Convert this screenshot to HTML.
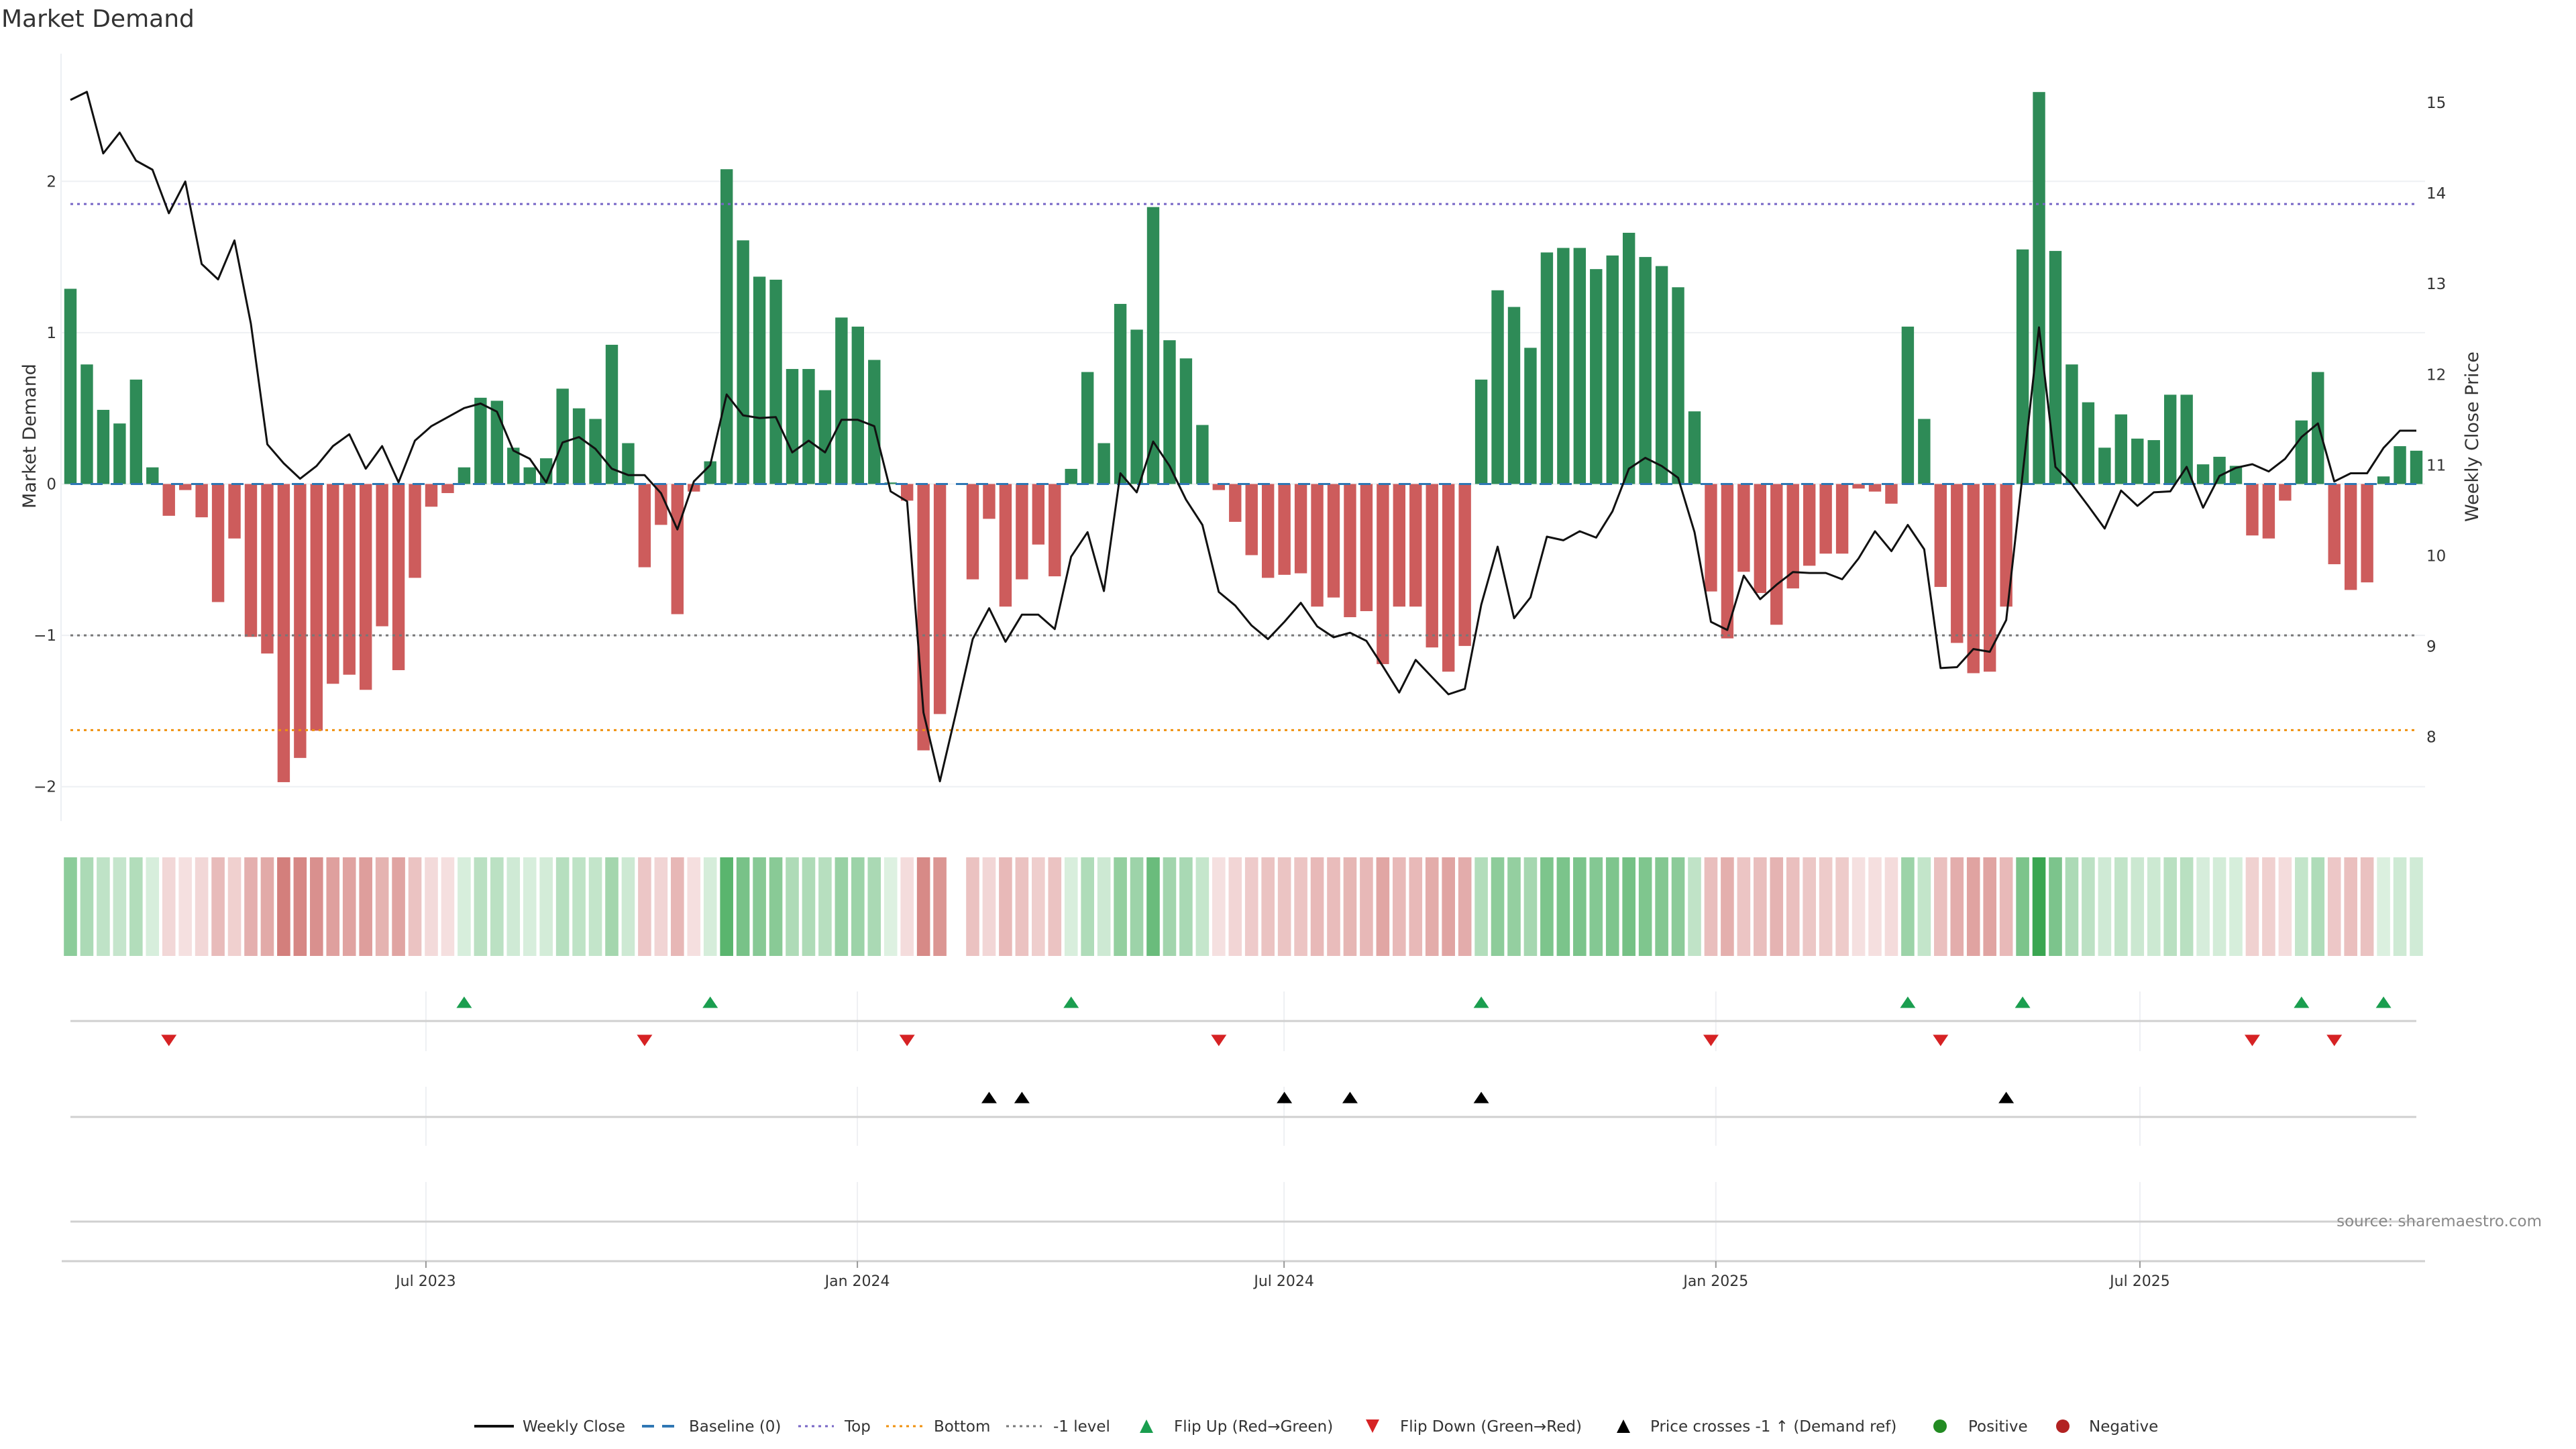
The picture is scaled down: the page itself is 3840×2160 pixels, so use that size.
<!DOCTYPE html>
<html><head><meta charset="utf-8"><title>Market Demand</title>
<style>html,body{margin:0;padding:0;background:#fff}svg{display:block}text{font-family:"DejaVu Sans","Liberation Sans",sans-serif}</style>
</head><body>
<svg id="chart" xmlns="http://www.w3.org/2000/svg" width="3840" height="2160" viewBox="0 0 3840 2160">
<rect width="3840" height="2160" fill="#fff"/>
<text x="2" y="40" font-size="36" fill="#333">Market Demand</text>
<line x1="91" y1="80" x2="91" y2="1224" stroke="#eceff3" stroke-width="2"/>
<text transform="translate(53,650) rotate(-90)" text-anchor="middle" font-size="27" fill="#333">Market Demand</text>
<text transform="translate(3694,651) rotate(-90)" text-anchor="middle" font-size="27" fill="#333">Weekly Close Price</text>
<g id="grid"></g><g id="bars"></g><g id="refs"></g><g id="line"></g><g id="heat"></g><g id="panels"></g><g id="axis"></g><g id="legend"></g>
<text x="3789" y="1828" text-anchor="end" font-size="23" fill="#888">source: sharemaestro.com</text>
</svg>
<script>
const demand = [1.29,0.79,0.49,0.40,0.69,0.11,-0.21,-0.04,-0.22,-0.78,
-0.36,-1.01,-1.12,-1.97,-1.81,-1.63,-1.32,-1.26,-1.36,-0.94,
-1.23,-0.62,-0.15,-0.06,0.11,0.57,0.55,0.24,0.11,0.17,
0.63,0.50,0.43,0.92,0.27,-0.55,-0.27,-0.86,-0.05,0.15,
2.08,1.61,1.37,1.35,0.76,0.76,0.62,1.10,1.04,0.82,
0.01,-0.11,-1.76,-1.52,null,-0.63,-0.23,-0.81,-0.63,-0.40,
-0.61,0.10,0.74,0.27,1.19,1.02,1.83,0.95,0.83,0.39,
-0.04,-0.25,-0.47,-0.62,-0.60,-0.59,-0.81,-0.75,-0.88,-0.84,
-1.19,-0.81,-0.81,-1.08,-1.24,-1.07,0.69,1.28,1.17,0.90,
1.53,1.56,1.56,1.42,1.51,1.66,1.50,1.44,1.30,0.48,
-0.71,-1.02,-0.58,-0.72,-0.93,-0.69,-0.54,-0.46,-0.46,-0.03,
-0.05,-0.13,1.04,0.43,-0.68,-1.05,-1.25,-1.24,-0.81,1.55,
2.59,1.54,0.79,0.54,0.24,0.46,0.30,0.29,0.59,0.59,
0.13,0.18,0.12,-0.34,-0.36,-0.11,0.42,0.74,-0.53,-0.70,
-0.65,0.05,0.25,0.22];
const price = [15.03,15.12,14.44,14.67,14.36,14.26,13.78,14.13,13.22,13.05,
13.48,12.56,11.23,11.02,10.85,10.99,11.21,11.34,10.96,11.21,
10.81,11.27,11.43,11.53,11.63,11.68,11.59,11.16,11.07,10.81,
11.25,11.31,11.18,10.96,10.89,10.89,10.69,10.29,10.82,11.00,
11.78,11.55,11.52,11.53,11.14,11.27,11.14,11.50,11.50,11.43,
10.71,10.60,8.27,7.51,8.28,9.08,9.42,9.05,9.35,9.35,
9.19,9.99,10.26,9.61,10.91,10.70,11.26,10.99,10.62,10.34,
9.60,9.45,9.23,9.08,9.27,9.48,9.22,9.10,9.15,9.06,
8.78,8.49,8.85,8.66,8.47,8.53,9.46,10.10,9.31,9.54,
10.21,10.17,10.27,10.20,10.49,10.96,11.08,10.99,10.86,10.26,
9.27,9.18,9.78,9.52,9.68,9.82,9.81,9.81,9.74,9.97,
10.27,10.05,10.34,10.07,8.76,8.77,8.97,8.94,9.29,10.90,
12.52,10.98,10.79,10.55,10.30,10.72,10.55,10.70,10.71,10.98,
10.53,10.88,10.97,11.01,10.93,11.07,11.31,11.46,10.82,10.91,
10.91,11.19,11.38,11.38];
const leftTicks = [-2,-1,0,1,2];
const rightTicks = [8,9,10,11,12,13,14,15];
const xTickLabels = ["Jul 2023","Jan 2024","Jul 2024","Jan 2025","Jul 2025"];
const xTickIdx = [21.67,47.97,73.98,100.30,126.15];
const topLevel = 1.85;
const bottomLevel = -1.626;
const minusLevel = -1;

const NS="http://www.w3.org/2000/svg";
const N = demand.length;
const x0=105, x1=3602;
const step=(x1-x0)/(N-1);
function xs(i){return x0+i*step;}
function yL(v){return 721.5-225.6*v;}
function yR(p){return 153.1+(15-p)*135.06;}
function pInv(y){return 15-(y-153.1)/135.06;}
function mk(tag,attrs,parent){const e=document.createElementNS(NS,tag);for(const k in attrs)e.setAttribute(k,attrs[k]);parent.appendChild(e);return e;}
const G=id=>document.getElementById(id);

const grid=G('grid');
leftTicks.forEach(v=>{
  const l=mk('line',{x1:91,x2:3615,y1:yL(v),y2:yL(v),stroke:'#eef0f3','stroke-width':2},grid);
  
  
  const t=mk('text',{x:84,y:yL(v)+8,'text-anchor':'end','font-size':23,fill:'#333'},grid);
  t.textContent=v<0?'\u2212'+Math.abs(v):String(v);
  
  
});
rightTicks.forEach(p=>{
  const t=mk('text',{x:3617,y:yR(p)+8,'font-size':23,fill:'#333'},grid);
  t.textContent=String(p);
  
  
});

const bars=G('bars');
demand.forEach((v,i)=>{
  if(v===null)return;
  const y=Math.min(yL(v),yL(0)), h=Math.abs(yL(v)-yL(0));
  const r=mk('rect',{x:xs(i)-9.2,y:y,width:18.4,height:Math.max(h,0.5),fill:v>=0?'#2e8b57':'#cd5c5c'},bars);
  
  
});

const refs=G('refs');
function ref(v,color,dash,name){
  const l=mk('line',{x1:x0,x2:x1,y1:yL(v),y2:yL(v),stroke:color,'stroke-width':3,'stroke-dasharray':dash},refs);
  
  
}
ref(0,'#2f77b4','18 12','baseline-zero');
ref(topLevel,'#7766c6','4 6','top-level-line');
ref(bottomLevel,'#f0900e','4 6','bottom-level-line');
ref(minusLevel,'#777','4 6','minus-one-level-line');

const pts=price.map((p,i)=>xs(i).toFixed(1)+','+yR(p).toFixed(1)).join(' ');
const pl=mk('polyline',{points:pts,fill:'none',stroke:'#111','stroke-width':3,'stroke-linejoin':'round'},G('line'));



const heat=G('heat');
const maxAbs=Math.max(...demand.filter(v=>v!==null).map(Math.abs));
function mix(a,b,t){return 'rgb('+a.map((c,k)=>Math.round(c+(b[k]-c)*t)).join(',')+')';}
demand.forEach((v,i)=>{
  if(v===null)return;
  const t=Math.min(1,Math.abs(v)/maxAbs);
  const col=v>=0?mix([222,241,226],[58,166,81],t):mix([246,226,226],[200,96,92],t);
  const r=mk('rect',{x:xs(i)-9.8,y:1278,width:19.6,height:147,fill:col},heat);
  
  
});

const panels=G('panels');
function hline(y,name){const l=mk('line',{x1:x0,x2:x1,y1:y,y2:y,stroke:'#d0d0d0','stroke-width':3},panels);}
xTickIdx.forEach(ix=>{
  [[1478,1567],[1620,1708],[1762,1880]].forEach(r=>{
    const l=mk('line',{x1:xs(ix),x2:xs(ix),y1:r[0],y2:r[1],stroke:'#eef0f3','stroke-width':2},panels);
    
    
  });
});
hline(1522,'flip-panel-axis');
hline(1665,'cross-panel-axis');
hline(1821,'empty-panel-axis');
function tri(cx,cy,up,color,name){
  const w=11.5,h=8.5;
  const d=up?`M${cx-w},${cy+h} L${cx+w},${cy+h} L${cx},${cy-h} Z`:`M${cx-w},${cy-h} L${cx+w},${cy-h} L${cx},${cy+h} Z`;
  const p=mk('path',{d:d,fill:color},panels);
  
  
}
let prev=null;
demand.forEach((v,i)=>{
  if(v===null)return;
  if(prev!==null){
    if(prev<0&&v>=0)tri(xs(i),1494,true,'#1a9e4f','flip-up-marker');
    if(prev>=0&&v<0)tri(xs(i),1551,false,'#d62224','flip-down-marker');
  }
  prev=v;
});
const thr=pInv(yL(minusLevel));
for(let i=1;i<N;i++){
  if(price[i-1]<thr&&price[i]>=thr)tri(xs(i),1636,true,'#000','price-cross-marker');
}

const axis=G('axis');
const ax=mk('line',{x1:92,x2:3615,y1:1880,y2:1880,stroke:'#cfcfcf','stroke-width':3},axis);


xTickIdx.forEach((ix,k)=>{
  const l=mk('line',{x1:xs(ix),x2:xs(ix),y1:1880,y2:1890,stroke:'#999','stroke-width':2},axis);
  
  
  const t=mk('text',{x:xs(ix),y:1917,'text-anchor':'middle','font-size':22,fill:'#333'},axis);
  t.textContent=xTickLabels[k];
  
  
});

const lg=G('legend');
const ly=2126;
function ltext(x,s){const t=mk('text',{x:x,y:ly+8,'font-size':23,fill:'#333'},lg);t.textContent=s;}
function lline(xa,xb,color,dash,w,name){const l=mk('line',{x1:xa,x2:xb,y1:ly,y2:ly,stroke:color,'stroke-width':w,'stroke-dasharray':dash},lg);}
lline(707,766,'#111','none',4,'legend-weekly-close');ltext(779,'Weekly Close');
lline(957,1011,'#2f77b4','18 12',4,'legend-baseline');ltext(1027,'Baseline (0)');
lline(1190,1243,'#7766c6','4 6',3,'legend-top');ltext(1259,'Top');
lline(1321,1375,'#f0900e','4 6',3,'legend-bottom');ltext(1392,'Bottom');
lline(1500,1553,'#777','4 6',3,'legend-minus-one');ltext(1570,'-1 level');
function ltri(cx,up,color,name){const w=10,h=10;const d=up?`M${cx-w},${ly+h} L${cx+w},${ly+h} L${cx},${ly-h} Z`:`M${cx-w},${ly-h} L${cx+w},${ly-h} L${cx},${ly+h} Z`;const p=mk('path',{d:d,fill:color},lg);}
ltri(1709,true,'#1a9e4f','legend-flip-up');ltext(1750,'Flip Up (Red\u2192Green)');
ltri(2046,false,'#d62224','legend-flip-down');ltext(2087,'Flip Down (Green\u2192Red)');
ltri(2420,true,'#000','legend-price-cross');ltext(2460,'Price crosses -1 \u2191 (Demand ref)');
const c1=mk('circle',{cx:2892,cy:ly,r:10,fill:'#228b22'},lg);ltext(2934,'Positive');
const c2=mk('circle',{cx:3075,cy:ly,r:10,fill:'#b22222'},lg);ltext(3114,'Negative');
</script>
</body></html>
